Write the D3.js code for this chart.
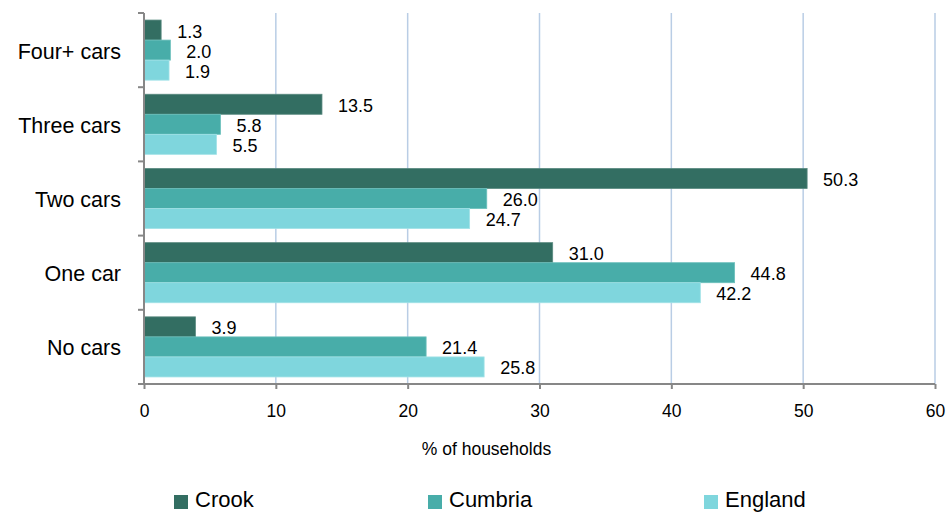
<!DOCTYPE html>
<html><head><meta charset="utf-8">
<script src="https://cdn.jsdelivr.net/npm/d3@7"></script>
<style>body{margin:0;background:#fff;}svg{display:block;font-family:"Liberation Sans",Arial,sans-serif;}</style>
</head><body>
<script>
const categories = ["Four+ cars","Three cars","Two cars","One car","No cars"];
const seriesNames = ["Crook","Cumbria","England"];
const crook = [1.3,13.5,50.3,31.0,3.9];
const cumbria = [2.0,5.8,26.0,44.8,21.4];
const england = [1.9,5.5,24.7,42.2,25.8];
const xTicks = [0,10,20,30,40,50,60];
const colors = ["#336e62","#48ada9","#7fd6dd"];
const strokes = ["#5a8a80","#6cc0bc","#a2e2e7"];

const W=946,H=512;
const svg=d3.select("body").append("svg").attr("width",W).attr("height",H);
const x=d3.scaleLinear().domain([0,60]).range([144,935]);
const y=d3.scaleBand().domain(categories).range([13,384]).paddingInner(0.19).paddingOuter(0.095);
const ySub=d3.scaleBand().domain(seriesNames).range([0,y.bandwidth()]);
const data=[crook,cumbria,england];

// gridlines
svg.append("g").selectAll("line").data(xTicks.filter(d=>d>0)).join("line")
 .attr("x1",d=>x(d)).attr("x2",d=>x(d)).attr("y1",13).attr("y2",384)
 .attr("stroke","#b9cde5").attr("stroke-width",1.5);

// bars
seriesNames.forEach((s,si)=>{
  const g=svg.append("g");
  g.selectAll("rect").data(categories).join("rect")
   .attr("x",x(0)).attr("y",(c)=>y(c)+ySub(s))
   .attr("width",(c,i)=>x(data[si][i])-x(0)).attr("height",ySub.bandwidth())
   .attr("fill",colors[si]).attr("stroke",strokes[si]).attr("stroke-width",0.8);
  g.selectAll("text").data(categories).join("text")
   .attr("x",(c,i)=>x(data[si][i])+16).attr("y",(c)=>y(c)+ySub(s)+ySub.bandwidth()/2+7.5)
   .attr("font-size",18).attr("fill","#000").text((c,i)=>data[si][i].toFixed(1));
});

// axes
const axisColor="#878787";
const xAxis=svg.append("g").attr("transform","translate(0,384)")
 .call(d3.axisBottom(x).tickValues(xTicks).tickSize(5).tickPadding(16));
xAxis.select(".domain").attr("stroke",axisColor).attr("stroke-width",2).attr("d",`M${x(0)},0H${x(60)}`);
xAxis.selectAll(".tick line").attr("stroke",axisColor).attr("stroke-width",2);
xAxis.selectAll("text").attr("font-size",17.5).attr("fill","#000").attr("font-family","Liberation Sans, Arial, sans-serif");

const yEdges=[13].concat(categories.map(c=>y(c)+y.bandwidth()+y.step()*y.paddingInner()/2));
yEdges[yEdges.length-1]=384;
svg.append("line").attr("x1",x(0)).attr("x2",x(0)).attr("y1",13).attr("y2",384).attr("stroke",axisColor).attr("stroke-width",2);
svg.append("g").selectAll("line").data(yEdges).join("line")
 .attr("x1",x(0)-6).attr("x2",x(0)).attr("y1",d=>d).attr("y2",d=>d).attr("stroke",axisColor).attr("stroke-width",2);
svg.append("g").selectAll("text").data(categories).join("text")
 .attr("x",121).attr("y",c=>y(c)+y.bandwidth()/2+8.5).attr("text-anchor","end")
 .attr("font-size",21.5).attr("fill","#000").text(c=>c);

svg.append("text").attr("x",486.5).attr("y",455).attr("text-anchor","middle").attr("font-size",17.5).text("% of households");

// legend
const legX=[174,428,704];
seriesNames.forEach((s,i)=>{
  svg.append("rect").attr("x",legX[i]).attr("y",495).attr("width",14).attr("height",14).attr("fill",colors[i]);
  svg.append("text").attr("x",legX[i]+21).attr("y",507).attr("font-size",22).text(s);
});
</script>
</body></html>
